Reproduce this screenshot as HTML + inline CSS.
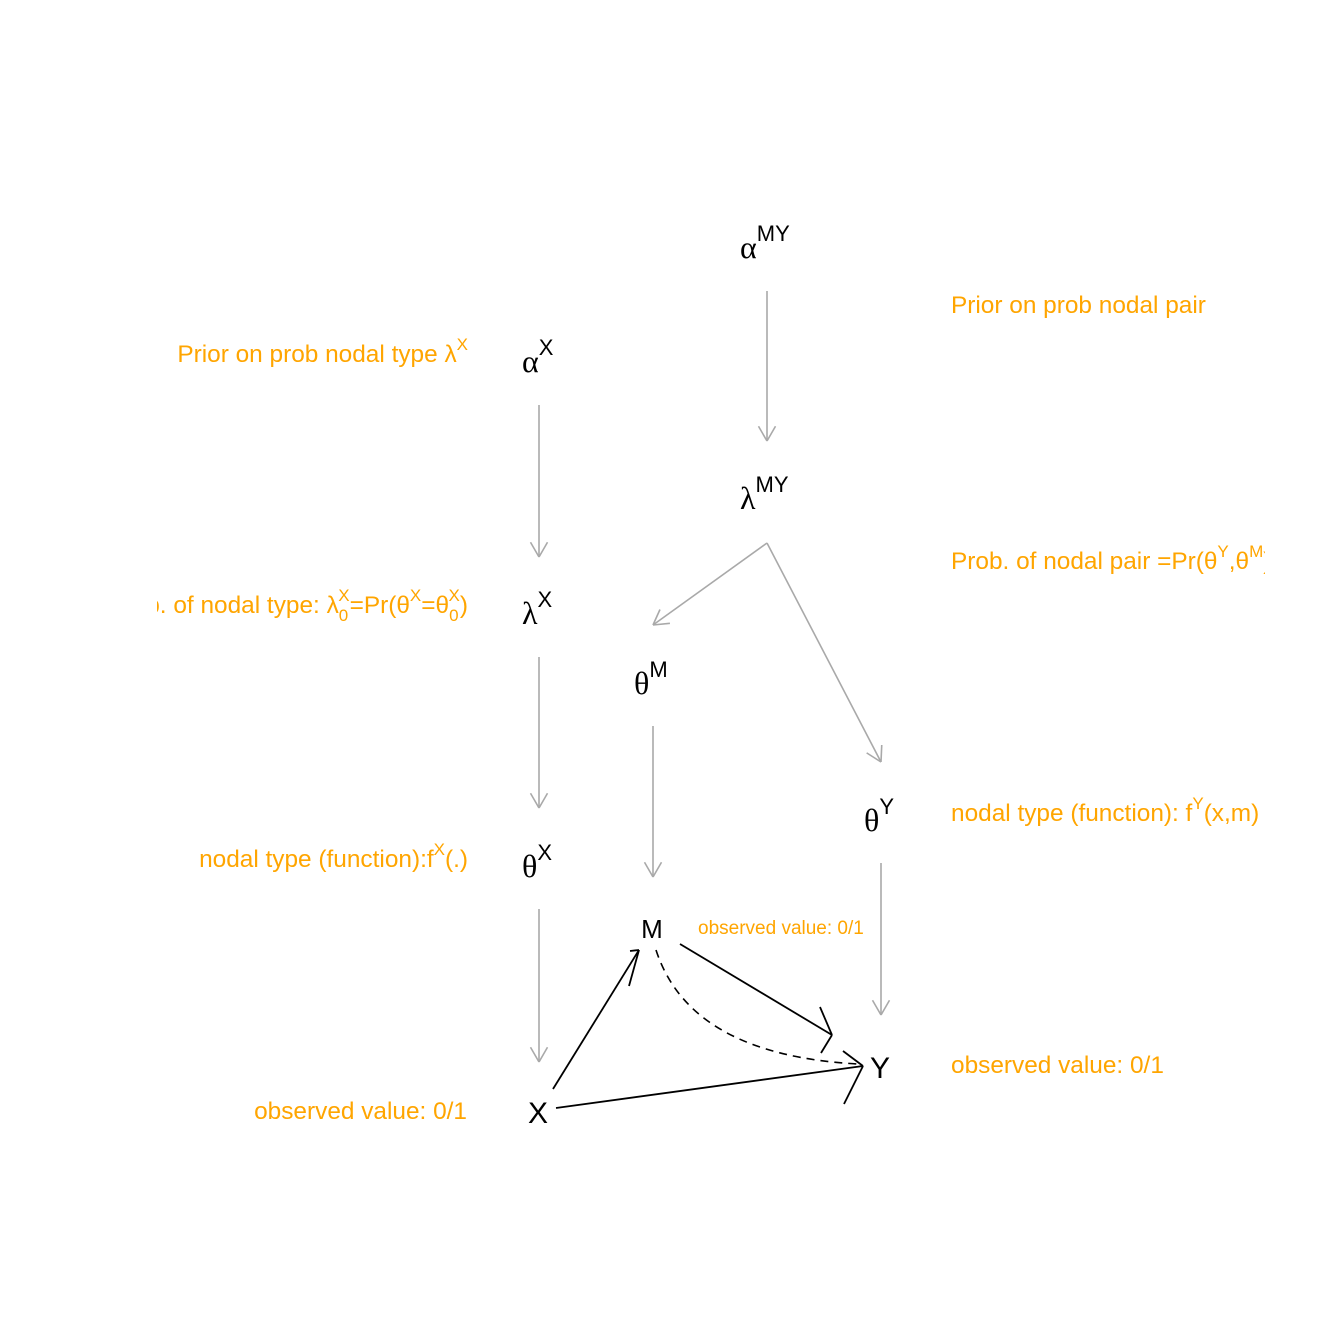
<!DOCTYPE html>
<html><head><meta charset="utf-8"><style>
html,body{margin:0;padding:0;background:#fff}
svg{display:block}
.or{fill:#FFA500;font-family:"Liberation Sans",sans-serif;font-size:24.4px}
.gk{font-family:"Liberation Serif",serif;font-size:32px;fill:#000}
.sp{font-family:"Liberation Sans",sans-serif;font-size:22px;fill:#000}
.nd{font-family:"Liberation Sans",sans-serif;font-size:30px;fill:#000}
</style></head><body>
<svg id="s" width="1344" height="1344" viewBox="0 0 1344 1344">
<defs><clipPath id="c"><rect x="157" y="0" width="1108" height="1344"/></clipPath></defs>
<g clip-path="url(#c)">
<text class="or" x="468" y="362" text-anchor="end">Prior on prob nodal type λ<tspan dy="-12" font-size="17">X</tspan></text>
<text class="or" x="468" y="613" text-anchor="end">Prob. of nodal type: λ<tspan dy="8" font-size="17">0</tspan><tspan dx="-10" dy="-20" font-size="17">X</tspan><tspan dy="12">=Pr(θ</tspan><tspan dy="-12" font-size="17">X</tspan><tspan dy="12">=θ</tspan><tspan dy="8" font-size="17">0</tspan><tspan dx="-10" dy="-20" font-size="17">X</tspan><tspan dy="12">)</tspan></text>
<text class="or" x="468" y="867" text-anchor="end">nodal type (function):f<tspan dy="-12" font-size="17">X</tspan><tspan dy="12">(.)</tspan></text>
<text class="or" x="467" y="1119" text-anchor="end">observed value: 0/1</text>
<text class="or" x="951" y="313">Prior on prob nodal pair</text>
<text class="or" x="951" y="569">Prob. of nodal pair =Pr(θ<tspan dy="-12" font-size="17">Y</tspan><tspan dy="12">,θ</tspan><tspan dy="-12" font-size="17">M</tspan><tspan dy="12">)</tspan></text>
<text class="or" x="951" y="821">nodal type (function): f<tspan dy="-12" font-size="17">Y</tspan><tspan dy="12">(x,m)</tspan></text>
<text class="or" x="951" y="1073">observed value: 0/1</text>
<text class="or" x="698" y="934" style="font-size:19px">observed value: 0/1</text>
</g>
<g>
<text class="gk" x="740" y="258">α<tspan class="sp" dy="-17">MY</tspan></text>
<text class="gk" x="522" y="372">α<tspan class="sp" dy="-17">X</tspan></text>
<text class="gk" x="740" y="509">λ<tspan class="sp" dy="-17">MY</tspan></text>
<text class="gk" x="522" y="624">λ<tspan class="sp" dy="-17">X</tspan></text>
<text class="gk" x="634" y="694">θ<tspan class="sp" dy="-17">M</tspan></text>
<text class="gk" x="864" y="831">θ<tspan class="sp" dy="-17">Y</tspan></text>
<text class="gk" x="522" y="877">θ<tspan class="sp" dy="-17">X</tspan></text>
<text class="nd" x="652" y="938" text-anchor="middle" style="font-size:26px">M</text>
<text class="nd" x="880" y="1078" text-anchor="middle">Y</text>
<text class="nd" x="538" y="1123" text-anchor="middle">X</text>
</g>
<path d="M656,950 Q690,1055 858,1064" fill="none" stroke="#000" stroke-width="1.6" stroke-dasharray="8,6"/>
<g id="edges"></g>
</svg>
<script>
const grayEdges=[[539,405,539,557],[539,657,539,808],[539,909,539,1062],[767,291,767,441],[767,543,653,625],[767,543,881,762],[653,726,653,877],[881,863,881,1015]];
const blackEdges=[[553,1089,639,950],[680,944,832,1035],[556,1108,863,1066]];
const blackBarbs=[[[-9,1],[-10,36]],[[-12,-28],[-11,18]],[[-20,-15],[-19,38]]];
const g=document.getElementById('edges');
function line(x1,y1,x2,y2,col,w){
  const l=document.createElementNS('http://www.w3.org/2000/svg','line');
  l.setAttribute('x1',x1);l.setAttribute('y1',y1);l.setAttribute('x2',x2);l.setAttribute('y2',y2);
  l.setAttribute('stroke',col);l.setAttribute('stroke-width',w);
  
  
  g.appendChild(l);
}
function arrow(e,col,w,len){
  const [x1,y1,x2,y2]=e;line(x1,y1,x2,y2,col,w);
  const a=Math.atan2(y1-y2,x1-x2);
  for(const d of [-Math.PI/6,Math.PI/6]){
    line(x2,y2,x2+len*Math.cos(a+d),y2+len*Math.sin(a+d),col,w);
  }
}
grayEdges.forEach(e=>arrow(e,'#A9A9A9',1.6,17));
blackEdges.forEach((e,i)=>{
  const [x1,y1,x2,y2]=e;line(x1,y1,x2,y2,'#000',1.8);
  blackBarbs[i].forEach(b=>line(x2,y2,x2+b[0],y2+b[1],'#000',1.8));
});
</script>
</body></html>
